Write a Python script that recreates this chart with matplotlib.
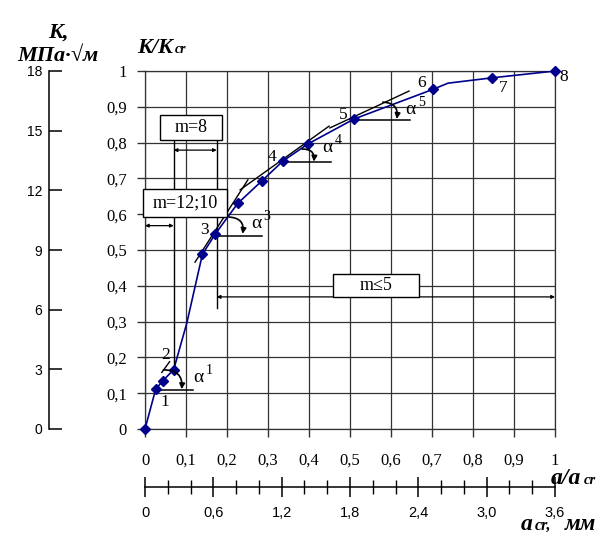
import matplotlib
matplotlib.use('Agg')
import matplotlib.pyplot as plt
from matplotlib.patches import Rectangle, FancyArrowPatch

plt.rcParams['font.family'] = ['Liberation Serif', 'DejaVu Serif']

W, H = 607, 538

# точки кривой (маркеры)
a_rel = [0, 0.026, 0.043, 0.07, 0.14, 0.171, 0.226, 0.285, 0.337, 0.397, 0.51, 0.703, 0.847, 1.0]
k_rel = [0, 0.111, 0.134, 0.166, 0.488, 0.544, 0.63, 0.693, 0.749, 0.796, 0.866, 0.949, 0.981, 1.0]
# линия кривой (с промежуточными вершинами)
curve_x = [0, 0.026, 0.043, 0.07, 0.102, 0.14, 0.171, 0.226, 0.285, 0.337, 0.397, 0.51, 0.703, 0.739, 0.847, 1.0]
curve_y = [0, 0.111, 0.134, 0.166, 0.296, 0.488, 0.544, 0.63, 0.693, 0.749, 0.796, 0.866, 0.949, 0.966, 0.981, 1.0]

rel_ticks = [0, 0.1, 0.2, 0.3, 0.4, 0.5, 0.6, 0.7, 0.8, 0.9, 1.0]
rel_labels = ['0', '0,1', '0,2', '0,3', '0,4', '0,5', '0,6', '0,7', '0,8', '0,9', '1']
k_ticks = [0, 3, 6, 9, 12, 15, 18]
mm_major = [0, 0.6, 1.2, 1.8, 2.4, 3.0, 3.6]
mm_labels = ['0', '0,6', '1,2', '1,8', '2,4', '3,0', '3,6']
mm_minor = [0.2, 0.4, 0.8, 1.0, 1.4, 1.6, 2.0, 2.2, 2.6, 2.8, 3.2, 3.4]

point_names = ['1', '2', '3', '4', '5', '6', '7', '8']
point_pos = [(0.049, 0.076), (0.050, 0.207), (0.144, 0.556), (0.309, 0.761),
             (0.484, 0.877), (0.675, 0.966), (0.874, 0.952), (1.02, 0.982)]

# касательные, горизонтали и дуги углов
tangents = [((0.041, 0.158), (0.060, 0.188)),
            ((0.122, 0.466), (0.251, 0.696)),
            ((0.232, 0.668), (0.449, 0.846)),
            ((0.451, 0.841), (0.644, 0.944))]
horizontals = [(0.109, 0.02, 0.118), (0.539, 0.171, 0.285),
               (0.746, 0.337, 0.454), (0.863, 0.51, 0.646)]
angle_arcs = [((0.045, 0.165), (0.0895, 0.111)), ((0.205, 0.592), (0.238, 0.545)),
              ((0.383, 0.782), (0.412, 0.747)), ((0.580, 0.913), (0.614, 0.866))]
angle_names = ['1', '3', '4', '5']
angle_pos = [(0.130, 0.144), (0.271, 0.573), (0.445, 0.786), (0.648, 0.893)]


def fx(px):
    return px / W


def fy(py):
    return 1 - py / H


fig = plt.figure(figsize=(W / 100, H / 100), dpi=100)

ax = fig.add_axes([fx(145), fy(429), 410 / W, 358 / H])
ax.set_xlim(0, 1)
ax.set_ylim(0, 1)
ax.set_xticks(rel_ticks)
ax.set_xticklabels(rel_labels)
ax.set_yticks(rel_ticks)
ax.set_yticklabels(rel_labels)
ax.tick_params(direction='out', length=6, width=1, labelsize=12, color='#333333')
ax.tick_params(axis='x', pad=11)
ax.tick_params(axis='y', pad=7)
ax.grid(True, color='#333333', lw=0.9)
for s in ax.spines.values():
    s.set_color('#333333')
    s.set_linewidth(0.9)

ax.plot(curve_x, curve_y, color='#00008b', lw=1.2, zorder=4)
ax.plot(a_rel, k_rel, ls='none', marker='D', ms=5, color='#00008b', zorder=5, clip_on=False)

for name, (px_, py_) in zip(point_names, point_pos):
    ax.text(px_, py_, name, fontsize=12.5, ha='center', va='center', zorder=6, clip_on=False)

for (p0, p1) in tangents:
    ax.plot([p0[0], p1[0]], [p0[1], p1[1]], color='k', lw=1, zorder=4)
for (yy, x0, x1) in horizontals:
    ax.plot([x0, x1], [yy, yy], color='k', lw=1.1, zorder=4)
for (p0, p1) in angle_arcs:
    ax.add_patch(FancyArrowPatch(p0, p1, connectionstyle='arc3,rad=-0.55',
                                 arrowstyle='-|>', mutation_scale=8, lw=1.2,
                                 shrinkA=0, shrinkB=0, color='k', zorder=5))
for name, (px_, py_) in zip(angle_names, angle_pos):
    ax.text(px_, py_, 'α', fontsize=14, ha='center', va='center', zorder=6)
    ax.text(px_ + 0.026, py_ + 0.02, name, fontsize=10, ha='center', va='center', zorder=6)

# размерные линии и рамки
def dim_arrow(x0, x1, yy):
    ax.annotate('', xy=(x1, yy), xytext=(x0, yy),
                arrowprops=dict(arrowstyle='<|-|>', mutation_scale=5, lw=0.9,
                                color='k', shrinkA=0, shrinkB=0), zorder=5)


def box(x0, y0, x1, y1, label):
    ax.add_patch(Rectangle((x0, y0), x1 - x0, y1 - y0, facecolor='white',
                           edgecolor='k', lw=1, zorder=6, clip_on=False))
    ax.text((x0 + x1) / 2, (y0 + y1) / 2, label, fontsize=13,
            ha='center', va='center', zorder=7)


ax.plot([0.07, 0.07], [0.807, 0.166], color='k', lw=1, zorder=4)
ax.plot([0.175, 0.175], [0.807, 0.338], color='k', lw=1, zorder=4)
dim_arrow(0.07, 0.175, 0.779)
dim_arrow(0.0, 0.07, 0.568)
dim_arrow(0.175, 1.0, 0.369)
box(0.037, 0.807, 0.187, 0.877, 'm=8')
box(-0.004, 0.593, 0.199, 0.670, 'm=12;10')
box(0.459, 0.369, 0.668, 0.433, 'm≤5')

# левая шкала K, МПа·√м
axl = fig.add_axes([fx(49), fy(429), 0.0005, 358 / H])
axl.set_ylim(0, 18)
axl.set_yticks(k_ticks)
axl.set_xticks([])
axl.patch.set_visible(False)
for side in ['top', 'right', 'bottom']:
    axl.spines[side].set_visible(False)
axl.spines['left'].set_linewidth(1.1)
axl.tick_params(axis='y', direction='in', length=9, width=1.1, pad=5)
for lab in axl.get_yticklabels():
    lab.set_family(['Liberation Sans', 'DejaVu Sans'])
    lab.set_fontsize(10)

# нижняя шкала a_cr, мм
axb = fig.add_axes([fx(145), fy(487), 410 / W, 0.0005])
axb.set_xlim(0, 3.6)
axb.set_xticks(mm_major)
axb.set_xticklabels(mm_labels)
axb.set_xticks(mm_minor, minor=True)
axb.set_yticks([])
axb.patch.set_visible(False)
for side in ['top', 'right', 'left']:
    axb.spines[side].set_visible(False)
axb.spines['bottom'].set_linewidth(1.1)
axb.tick_params(axis='x', which='major', direction='inout', length=15, width=1.1, pad=6)
axb.tick_params(axis='x', which='minor', direction='inout', length=10, width=1)
for lab in axb.get_xticklabels():
    lab.set_family(['Liberation Sans', 'DejaVu Sans'])
    lab.set_fontsize(10.5)

# подписи осей
bi = dict(fontweight='bold', fontstyle='italic')
fig.text(fx(58), fy(38), 'K,', fontsize=16, ha='center', va='baseline', **bi)
fig.text(fx(58), fy(61), 'МПа·√м', fontsize=16, ha='center', va='baseline', **bi)
fig.text(fx(173), fy(53), 'K/K', fontsize=16, ha='right', va='baseline', **bi)
fig.text(fx(175), fy(53), 'cr', fontsize=10, ha='left', va='baseline', **bi)
fig.text(fx(581), fy(484), 'a/a', fontsize=17, ha='right', va='baseline', **bi)
fig.text(fx(584), fy(484), 'cr', fontsize=10.5, ha='left', va='baseline', **bi)
fig.text(fx(533), fy(530), 'a', fontsize=17, ha='right', va='baseline', **bi)
fig.text(fx(535), fy(530), 'cr,', fontsize=11.5, ha='left', va='baseline', **bi)
fig.text(fx(565), fy(530), 'мм', fontsize=16.5, ha='left', va='baseline', **bi)

fig.savefig('out.png', dpi=100)
